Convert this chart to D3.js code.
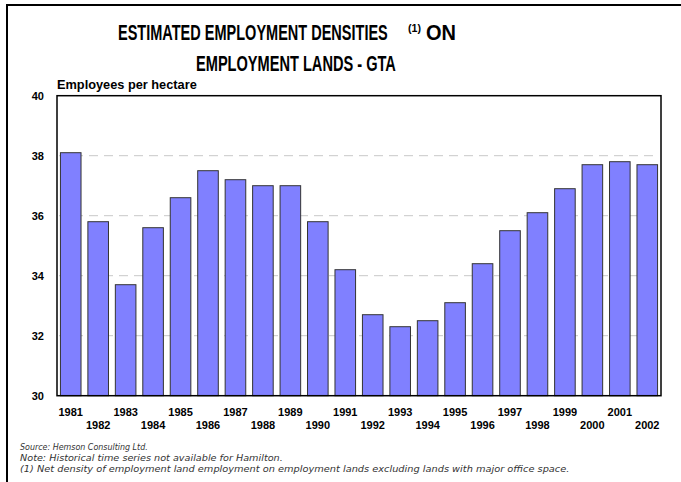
<!DOCTYPE html>
<html>
<head>
<meta charset="utf-8">
<script src="https://cdn.jsdelivr.net/npm/d3@7"></script>
<style>
  html, body { margin: 0; padding: 0; background: #fff; }
  svg { display: block; }
</style>
</head>
<body>
<svg id="chart" width="681" height="482"></svg>
<script>
const years = ["1981","1982","1983","1984","1985","1986","1987","1988","1989","1990","1991",
               "1992","1993","1994","1995","1996","1997","1998","1999","2000","2001","2002"];
const densities = [38.1,35.8,33.7,35.6,36.6,37.5,37.2,37.0,37.0,35.8,34.2,
                   32.7,32.3,32.5,33.1,34.4,35.5,36.1,36.9,37.7,37.8,37.7];
const yTicks = [30,32,34,36,38,40];
const gridTicks = [32,34,36,38];
const titleLine1 = "ESTIMATED EMPLOYMENT DENSITIES";
const titleSup = "(1)";
const titleOn = "ON";
const titleLine2 = "EMPLOYMENT LANDS - GTA";
const yAxisTitle = "Employees per hectare";
const footnotes = [
  "Source: Hemson Consulting Ltd.",
  "Note: Historical time series not available for Hamilton.",
  "(1) Net density of employment land employment on employment lands excluding lands with major office space."
];

const svg = d3.select("#chart");
const plot = {left: 57, right: 661, top: 95.7, bottom: 395.7};

// fit a text horizontally to a target width via a scale transform
function fitText(sel, x0, y0, target) {
  const w = sel.node().getComputedTextLength();
  const s = target / w;
  sel.attr("x", 0).attr("y", 0)
     .attr("transform", `translate(${x0},${y0}) scale(${s},1)`);
  return sel;
}

// outer border (left + top only visible)
svg.append("path")
  .attr("d", "M7,482 L7,5 L681,5")
  .attr("fill", "none").attr("stroke", "#000").attr("stroke-width", 2);

const x = d3.scaleBand().domain(years).range([plot.left, plot.right])
  .paddingInner(0.25).paddingOuter(0.125);
const y = d3.scaleLinear().domain([30, 40]).range([plot.bottom, plot.top]);

// gridlines
svg.append("g").selectAll("line").data(gridTicks).join("line")
  .attr("x1", plot.left + 2).attr("x2", plot.right - 2)
  .attr("y1", d => y(d)).attr("y2", d => y(d))
  .attr("stroke", "#c8c8c8").attr("stroke-width", 1)
  .attr("stroke-dasharray", "9,6");

// bars
svg.append("g").selectAll("rect").data(densities).join("rect")
  .attr("x", (d, i) => x(years[i]))
  .attr("y", d => y(d))
  .attr("width", x.bandwidth())
  .attr("height", d => y(30) - y(d))
  .attr("fill", "#8080ff")
  .attr("stroke", "#333")
  .attr("stroke-width", 1);

// plot frame
svg.append("rect")
  .attr("x", plot.left).attr("y", plot.top)
  .attr("width", plot.right - plot.left).attr("height", plot.bottom - plot.top)
  .attr("fill", "none").attr("stroke", "#000").attr("stroke-width", 1.5);

// y axis labels
const yAxis = d3.axisLeft(y).tickValues(yTicks).tickSize(0).tickPadding(13).tickFormat(d3.format("d"));
const gy = svg.append("g").attr("transform", `translate(${plot.left},0)`).call(yAxis);
gy.select(".domain").remove();
gy.selectAll("text")
  .attr("font-family", "'Liberation Sans', Arial, sans-serif")
  .attr("font-size", 11).attr("font-weight", "bold").attr("fill", "#000");

// x axis labels (staggered)
svg.append("g").selectAll("text").data(years).join("text")
  .attr("x", d => x(d) + x.bandwidth() / 2)
  .attr("y", (d, i) => i % 2 === 0 ? 416 : 429)
  .attr("text-anchor", "middle")
  .attr("font-family", "'Liberation Sans', Arial, sans-serif")
  .attr("font-size", 11).attr("font-weight", "bold")
  .text(d => d);

// y axis title
fitText(svg.append("text")
  .attr("font-family", "'Liberation Sans', Arial, sans-serif")
  .attr("font-size", 12).attr("font-weight", "bold")
  .text(yAxisTitle), 57, 89, 140);

// title
const tFont = "'Liberation Sans Narrow', 'Liberation Sans', Arial, sans-serif";
function titleText(str, size) {
  return svg.append("text").attr("font-family", tFont)
    .attr("font-size", size).attr("font-weight", "bold").text(str);
}
fitText(titleText(titleLine1, 22), 118, 40, 270);
fitText(titleText(titleSup, 10), 408, 32, 13);
fitText(titleText(titleOn, 22), 426, 40, 30);
fitText(titleText(titleLine2, 22), 196, 71, 200);

// footnotes
const fnLens = [128, 263, 550];
footnotes.forEach((d, i) => {
  fitText(svg.append("text")
    .attr("font-family", "'DejaVu Sans', Verdana, sans-serif")
    .attr("font-size", 8.5).attr("font-style", "italic").attr("fill", "#333")
    .text(d), 20, 450 + i * 11, fnLens[i]);
});
</script>
</body>
</html>
